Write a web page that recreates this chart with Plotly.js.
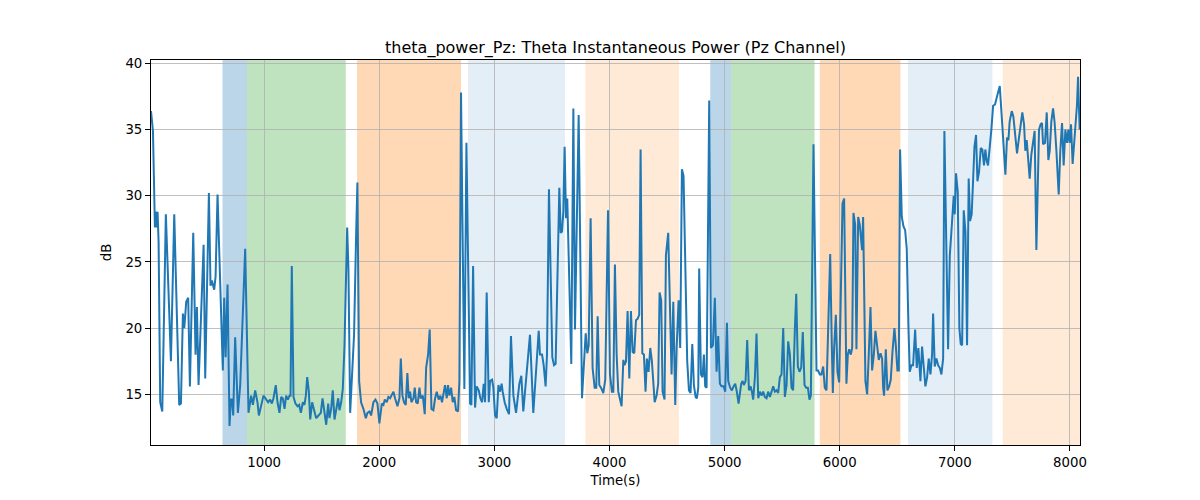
<!DOCTYPE html>
<html>
<head>
<meta charset="utf-8">
<script src="https://cdn.plot.ly/plotly-3.0.1.min.js"></script>
<style>html,body{margin:0;padding:0;background:#fff;}#chart{width:1200px;height:500px;}</style>
</head>
<body>
<div id="chart"></div>
<script>
// ---- data ----
const timeSec = [17,34,51,60,68,74,83,97,115,146,190,219,262,277,294,306,323,340,355,384,404,416,430,474,488,520,534,546,557,566,578,595,641,653,665,682,699,711,722,731,748,772,792,835,864,887,902,922,942,954,
994,1017,1035,1052,1067,1081,1101,1116,1133,1148,1162,1177,1191,1206,1220,1229,1240,1255,1272,1290,1304,1319,1336,1350,1362,1374,1388,1400,1417,1434,1452,1472,1492,1507,1521,1539,1556,1567,1582,1596,1611,1625,1643,1654,1669,1683,1698,1721,1732,1747,1764,1781,1799,1810,1825,1842,1862,1883,1897,1915,1929,1949,1967,1984,2001,
2022,2036,2048,2065,2079,2094,2108,2123,2137,2158,2175,2187,2201,2215,2230,2244,2256,2268,2279,2297,2308,2320,2334,2349,2360,2378,2395,2407,2424,2438,2453,2470,2485,2499,2516,2531,2545,2557,2571,2586,2597,2609,2624,2638,2652,2667,2684,2696,2710,2739,2757,2789,2800,2815,2832,2846,2864,2878,2893,2907,2919,2933,2951,2962,2980,2991,3006,3020,3035,
3049,3063,3072,3089,3107,3127,3144,3165,3188,3205,3217,3234,3251,3269,3292,3309,3338,3361,3385,3396,3414,3428,3445,3457,3474,3503,3518,3532,3564,3576,3587,3599,3610,3622,3633,3668,3686,3700,3732,3761,3778,3793,3807,3819,3836,3853,3871,3885,3897,3911,3926,3946,3963,3987,4004,4021,4033,4047,4062,4076,
4105,4120,4131,4143,4157,4172,4186,4201,4215,4230,4244,4258,4270,4285,4299,4313,4325,4339,4354,4368,4380,4392,4409,4423,4435,4449,4461,4478,4490,4510,4539,4554,4571,4583,4600,4614,4629,4643,4675,4690,4704,4719,4733,4748,4759,4771,4779,4794,4808,4820,4831,4843,4866,4881,4898,4915,4930,4944,4959,4973,4991,5005,5020,5031,5048,5063,5077,5092,5106,5121,
5144,5156,5167,5182,5196,5211,5225,5237,5248,5263,5277,5292,5306,5321,5335,5349,5364,5378,5393,5407,5422,5436,5451,5465,5480,5494,5509,5523,5538,5552,5567,5581,5595,5610,5622,5636,5650,5665,5679,5694,5708,5723,5737,5749,5772,5798,5812,5827,5841,5856,5870,5885,5917,5931,5940,5951,5966,5980,5995,6024,6038,6058,6070,6082,6096,6108,6119,6134,6145,6160,6174,
6194,6203,6223,6238,6252,6267,6281,6296,6310,6325,6339,6354,6368,6377,6385,6400,6414,6429,6443,6458,6475,6487,6501,6513,6524,6539,6553,6568,6582,6597,6608,6623,6637,6655,6669,6683,6701,6715,6730,6744,6759,6773,6788,6802,6811,6825,6840,6854,6869,6883,6898,6909,6941,6956,6970,6990,6999,7010,7025,7039,7051,7063,7077,7092,7106,7120,7132,7146,7158,7170,7184,7196,7210,
7225,7239,7253,7265,7277,7288,7303,7317,7332,7349,7366,7390,7410,7424,7439,7453,7465,7476,7494,7508,7526,7540,7557,7572,7586,7601,7612,7624,7636,7650,7664,7679,7693,7708,7731,7745,7757,7766,7783,7798,7812,7824,7838,7853,7867,7882,7902,7916,7931,7945,7960,7974,7986,7997,8009,8023,8038,8049,8061,8070,8084];

const powerDb = [36.4,34.9,27.6,28.8,27.6,28.8,26.5,14.4,13.7,28.6,17.5,28.6,14.2,14.3,21.1,20.0,22.0,22.3,15.6,27.2,18.0,21.6,15.7,26.3,16.2,30.2,23.2,23.6,23.2,22.9,23.9,30.1,16.8,22.3,17.8,23.3,12.6,14.6,14.6,13.4,19.3,13.6,15.7,26.0,13.6,14.9,14.2,15.3,14.4,13.4,
14.9,14.6,14.4,14.6,14.3,14.7,15.7,14.4,13.6,14.8,14.7,13.9,14.9,14.6,14.9,14.9,24.7,14.8,14.3,14.1,14.2,13.6,14.4,14.2,14.9,16.3,15.2,13.1,14.4,13.8,13.2,13.4,13.6,14.7,13.7,12.7,14.3,13.2,13.9,15.3,13.1,13.8,14.7,13.8,14.4,15.4,18.7,27.6,24.5,13.6,16.5,19.5,27.1,31.0,16.0,14.4,13.9,13.2,13.6,13.7,13.4,14.4,14.6,14.3,12.8,
14.3,14.2,14.6,14.4,14.8,14.7,14.9,15.2,14.7,14.1,14.7,17.7,14.9,14.4,14.2,16.6,14.7,15.2,14.4,14.7,15.5,14.4,14.3,15.5,14.7,14.9,13.5,17.0,18.0,19.9,13.9,13.8,14.7,15.2,14.6,14.9,14.4,15.2,15.7,14.7,15.7,14.9,15.5,14.4,14.8,13.8,13.7,16.0,37.8,15.4,34.0,14.3,14.2,24.7,14.0,15.6,15.3,14.7,14.4,15.8,14.4,22.7,14.4,16.0,16.1,15.5,13.4,13.2,15.7,
15.2,15.8,15.2,14.4,13.9,13.5,19.4,14.9,13.6,15.2,15.8,16.4,13.7,15.5,18.0,19.5,13.6,17.0,19.8,18.0,18.0,17.2,15.6,18.0,30.5,17.8,17.2,17.3,30.6,27.2,27.3,28.8,33.7,28.3,29.8,17.3,36.6,19.9,36.1,14.7,17.2,19.6,18.1,18.7,28.3,17.0,15.5,15.5,20.9,15.7,15.5,15.1,16.1,28.9,16.5,15.2,15.2,24.8,18.0,15.2,
14.1,17.6,17.2,17.5,21.3,16.2,21.3,18.2,18.1,20.6,20.7,21.0,33.5,18.1,18.0,15.2,17.7,16.7,18.5,17.5,16.0,14.4,14.9,15.8,22.7,22.1,15.2,14.6,25.5,27.2,16.5,22.0,14.2,18.5,22.1,18.5,32.0,31.5,17.5,15.3,15.1,18.8,15.7,14.8,14.7,15.5,24.5,16.5,16.3,18.0,15.6,15.5,37.2,18.5,18.7,22.3,16.7,19.4,15.8,15.6,15.6,15.2,20.4,16.0,15.5,15.3,15.6,15.8,15.2,14.3,
15.8,16.0,15.7,16.0,19.1,15.3,15.6,15.2,14.6,16.3,19.6,14.7,15.2,14.9,15.2,14.8,14.7,15.2,14.8,15.2,15.6,15.2,15.3,15.1,16.3,16.5,20.0,14.8,15.7,19.0,18.0,15.5,15.3,19.9,22.6,17.1,16.7,17.0,19.7,15.7,15.5,15.5,14.6,14.9,33.9,16.8,16.8,16.5,16.5,17.1,15.5,15.3,25.6,18.7,15.1,18.5,21.0,16.7,15.9,29.4,29.8,15.8,18.0,18.4,18.0,18.5,28.7,27.8,18.4,28.4,27.8,
25.9,28.4,16.0,15.0,18.0,21.6,16.8,18.0,19.8,18.5,17.6,18.1,17.7,15.5,14.9,18.4,15.3,15.6,16.1,18.2,20.0,18.7,16.8,16.8,33.5,28.4,27.7,27.4,26.0,20.0,16.7,17.2,17.2,19.9,17.0,18.5,16.0,18.6,16.6,15.6,16.3,17.7,16.5,18.0,21.1,17.1,17.7,17.2,17.0,16.5,17.7,34.9,18.4,25.5,27.3,30.0,28.6,31.7,30.3,20.0,18.8,18.7,28.9,27.3,18.7,31.3,28.1,28.6,31.1,33.7,34.6,31.1,31.8,
33.6,33.5,32.3,33.5,32.6,32.3,33.6,35.0,36.8,36.9,37.5,38.3,35.6,33.4,31.6,34.4,34.2,35.6,36.4,36.0,34.4,33.2,34.4,35.2,36.3,35.4,33.4,34.2,33.1,31.3,33.1,34.0,34.9,25.9,35.0,35.4,35.5,33.9,34.0,36.3,32.7,33.4,35.6,36.6,35.5,33.4,30.1,33.4,35.5,32.3,35.0,34.0,35.0,34.0,35.4,32.4,34.1,35.4,36.9,39.0,35.0];

// shaded intervals (seconds) and their kind
const regionStart = [638, 850, 1807, 2771, 3790, 4875, 5057, 5827, 6594, 7416];
const regionEnd   = [850, 1709, 2710, 3613, 4603, 5057, 5781, 6527, 7326, 8087];
const regionKind  = ['blue','green','orange','lightblue','lightorange','blue','green','orange','lightblue','lightorange'];

const xTicks = [1000,2000,3000,4000,5000,6000,7000,8000];
const yTicks = [15,20,25,30,35,40];

// ---- styles ----
const kindColor = {
  blue: 'rgba(31,119,180,0.3)',
  green: 'rgba(44,160,44,0.3)',
  orange: 'rgba(255,127,14,0.3)',
  lightblue: 'rgba(31,119,180,0.12)',
  lightorange: 'rgba(255,127,14,0.16)'
};

const shapes = regionStart.map((s, i) => ({
  type: 'rect', xref: 'x', yref: 'paper',
  x0: s, x1: regionEnd[i], y0: 0, y1: 1,
  fillcolor: kindColor[regionKind[i]],
  line: {width: 0}, layer: 'below'
}));

const trace = {
  x: timeSec, y: powerDb, type: 'scatter', mode: 'lines',
  line: {color: '#1f77b4', width: 2}, hoverinfo: 'x+y'
};

const font = {family: 'DejaVu Sans, sans-serif', size: 13.3, color: '#000'};

const layout = {
  width: 1200, height: 500,
  margin: {l: 151, r: 120, t: 60, b: 55},
  paper_bgcolor: '#fff', plot_bgcolor: '#fff',
  font: font,
  showlegend: false,
  title: {
    text: 'theta_power_Pz: Theta Instantaneous Power (Pz Channel)',
    font: {family: 'DejaVu Sans, sans-serif', size: 16, color: '#000'},
    x: 0.5, xref: 'paper', xanchor: 'center',
    y: 1, yref: 'paper', yanchor: 'bottom', pad: {b: 7}
  },
  xaxis: {
    range: [17, 8087], tickvals: xTicks, ticktext: xTicks.map(String),
    ticks: 'outside', ticklen: 5, tickwidth: 1, tickcolor: '#000',
    showgrid: true, gridcolor: '#b0b0b0', gridwidth: 0.8,
    showline: true, mirror: true, linecolor: '#000', linewidth: 1,
    zeroline: false, tickfont: font,
    title: {text: 'Time(s)', font: font, standoff: 6}
  },
  yaxis: {
    range: [11.17, 40.26], tickvals: yTicks, ticktext: yTicks.map(String),
    ticks: 'outside', ticklen: 5, tickwidth: 1, tickcolor: '#000',
    showgrid: true, gridcolor: '#b0b0b0', gridwidth: 0.8,
    showline: true, mirror: true, linecolor: '#000', linewidth: 1,
    zeroline: false, tickfont: font,
    title: {text: 'dB', font: font, standoff: 10}
  },
  shapes: shapes
};

Plotly.newPlot('chart', [trace], layout, {displayModeBar: false, staticPlot: true});
</script>
</body>
</html>
